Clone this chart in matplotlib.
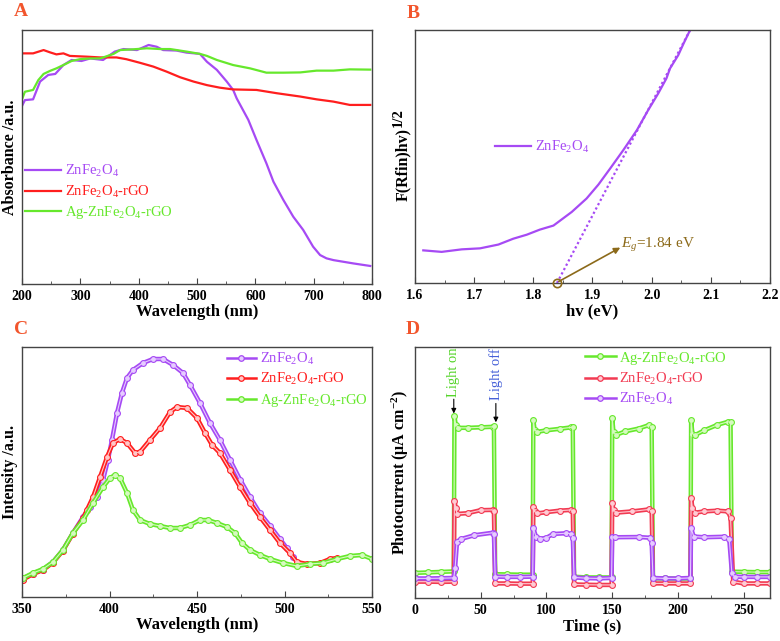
import matplotlib.pyplot as plt
from matplotlib.lines import Line2D
from matplotlib.ticker import MultipleLocator

plt.rcParams.update({
    "font.family": ["Liberation Serif", "DejaVu Serif"],
    "font.weight": "bold",
    "mathtext.fontset": "custom",
    "mathtext.rm": "Liberation Serif:regular",
    "mathtext.it": "Liberation Serif:italic:regular",
    "mathtext.bf": "Liberation Serif:bold",
    "mathtext.default": "regular",
    "axes.edgecolor": "#444444",
    "axes.linewidth": 1.0,
})

PURPLE = "#A64AF4"
RED = "#FF1E1E"
GREEN = "#66E82C"
RED_D = "#F23A52"
LETTER = "#F2552C"
BROWN = "#8C6A1A"
CORE = {PURPLE: "#E6CCFF", RED: "#FFC8C8", GREEN: "#D6FAC0", RED_D: "#FFCCD4"}

# --- A: UV-vis absorbance (a.u., fraction of axis height)
uv_wl_zf = [200, 205, 219, 231, 245, 257, 271, 285, 302, 317, 339, 359, 374, 397, 417, 431, 442, 465, 482, 505,
            517, 534, 551, 562, 568, 588, 602, 619, 631, 648, 665, 682, 699, 711, 722, 734, 768, 797]
uv_abs_zf = [0.701, 0.724, 0.727, 0.797, 0.823, 0.827, 0.862, 0.882, 0.878, 0.888, 0.882, 0.915, 0.925, 0.921,
             0.941, 0.934, 0.921, 0.919, 0.911, 0.906, 0.875, 0.843, 0.797, 0.764, 0.731, 0.646, 0.567, 0.475,
             0.403, 0.331, 0.265, 0.213, 0.147, 0.114, 0.101, 0.094, 0.081, 0.071]
uv_wl_rgo = [200, 219, 237, 248, 259, 271, 282, 311, 334, 362, 379, 402, 425, 448, 471, 494, 517, 539, 562, 602,
             637, 677, 705, 734, 762, 797]
uv_abs_rgo = [0.908, 0.908, 0.921, 0.912, 0.904, 0.908, 0.898, 0.895, 0.892, 0.892, 0.885, 0.871, 0.856, 0.836,
              0.814, 0.797, 0.783, 0.773, 0.766, 0.764, 0.751, 0.738, 0.727, 0.718, 0.705, 0.705]
uv_wl_ag = [200, 205, 219, 228, 237, 248, 259, 271, 285, 299, 317, 334, 357, 368, 391, 414, 437, 454, 482, 505,
            517, 534, 562, 591, 619, 648, 677, 705, 734, 762, 797]
uv_abs_ag = [0.727, 0.757, 0.764, 0.803, 0.827, 0.839, 0.849, 0.862, 0.878, 0.885, 0.888, 0.888, 0.906, 0.921,
             0.924, 0.928, 0.925, 0.925, 0.915, 0.906, 0.898, 0.882, 0.862, 0.849, 0.832, 0.832, 0.833, 0.840,
             0.840, 0.845, 0.844]

# --- B: Tauc plot
tauc_hv = [1.614, 1.645, 1.679, 1.710, 1.741, 1.766, 1.789, 1.811, 1.834, 1.865, 1.890, 1.910, 1.930, 1.952,
           1.975, 1.994, 2.011, 2.025, 2.031, 2.045, 2.054, 2.065]
tauc_y = [0.129, 0.123, 0.133, 0.137, 0.152, 0.175, 0.191, 0.211, 0.227, 0.281, 0.334, 0.389, 0.453, 0.525,
          0.604, 0.683, 0.749, 0.809, 0.848, 0.901, 0.947, 1.0]
tangent_hv = [1.84, 2.065]
tangent_y = [0.0, 1.0]
eg_value = 1.84

# --- C: PL spectra
pl_wl_zf = [350.6, 356.3, 362, 367.7, 373.4, 379.1, 384.9, 388.9, 392.9, 396.3, 399.1, 401.4, 404.3, 407.1, 410,
            413.4, 419.1, 424.9, 430.6, 436.3, 442, 446, 451.7, 457.4, 463.1, 468.9, 474.6, 480.3, 486, 491.7,
            497.4, 501.4, 504.9]
pl_int_zf = [0.074, 0.094, 0.11, 0.14, 0.188, 0.256, 0.32, 0.36, 0.40, 0.468, 0.548, 0.628, 0.736, 0.816, 0.876,
             0.908, 0.936, 0.952, 0.952, 0.928, 0.896, 0.848, 0.776, 0.696, 0.628, 0.548, 0.47, 0.40, 0.335,
             0.285, 0.232, 0.195, 0.16]
pl_wl_rgo = [350.6, 356.3, 362, 367.7, 373.4, 379.1, 384.9, 387.1, 390.6, 394.6, 398.6, 402, 406, 410, 414.6,
             417.4, 423.1, 428.9, 434.6, 438.6, 444.3, 450, 454.6, 458.6, 463.1, 468.9, 474.6, 480.3, 486, 491.7,
             497.4, 503.1, 507.1, 512.9, 520.3, 526, 530]
pl_int_rgo = [0.07, 0.092, 0.108, 0.138, 0.186, 0.254, 0.315, 0.348, 0.40, 0.48, 0.56, 0.616, 0.632, 0.616,
              0.576, 0.58, 0.628, 0.676, 0.74, 0.76, 0.756, 0.716, 0.656, 0.608, 0.576, 0.508, 0.44, 0.376, 0.32,
              0.268, 0.216, 0.176, 0.14, 0.132, 0.136, 0.152, 0.156]
pl_wl_ag = [350.6, 356.3, 362, 367.7, 373.4, 379.1, 384.9, 390.6, 396.3, 400.3, 403.1, 406, 410, 413.4, 417.4,
            423.1, 428.9, 434.6, 440.3, 446, 451.7, 456.3, 461.4, 467.1, 471.7, 475.7, 480.3, 486, 491.7, 499.1,
            507.1, 514.6, 522, 530, 537.4, 544.3, 550]
pl_int_ag = [0.076, 0.096, 0.112, 0.14, 0.188, 0.256, 0.308, 0.376, 0.44, 0.476, 0.488, 0.476, 0.416, 0.348,
             0.308, 0.292, 0.284, 0.276, 0.276, 0.288, 0.308, 0.308, 0.296, 0.28, 0.256, 0.216, 0.188, 0.168,
             0.152, 0.136, 0.124, 0.132, 0.136, 0.152, 0.164, 0.168, 0.152]

# --- D: transient photocurrent
pc_t_ag = [0, 10, 20, 29.5, 30, 31, 33, 40, 50, 59, 60, 61, 70, 80, 89.5, 90, 91, 93, 100, 110, 119, 120, 121,
           130, 140, 149.5, 150, 151, 153, 160, 170, 178, 180, 181, 190, 200, 209.5, 210, 211, 213, 220, 230,
           238, 240, 241, 250, 260, 270]
pc_ag = [0.100, 0.102, 0.104, 0.106, 0.725, 0.69, 0.678, 0.678, 0.680, 0.682, 0.685, 0.095, 0.094, 0.093, 0.093,
         0.709, 0.670, 0.662, 0.668, 0.674, 0.680, 0.682, 0.085, 0.082, 0.082, 0.082, 0.716, 0.660, 0.650, 0.664,
         0.675, 0.689, 0.680, 0.078, 0.078, 0.077, 0.078, 0.709, 0.655, 0.649, 0.668, 0.690, 0.702, 0.700, 0.105,
         0.104, 0.103, 0.103]
pc_t_rgo = [0, 10, 20, 29.5, 30, 31, 32, 40, 50, 59, 60, 61, 70, 80, 89.5, 90, 91, 93, 100, 110, 119, 120, 121,
            130, 140, 149.5, 150, 151, 153, 165, 178, 180, 181, 190, 200, 209.5, 210, 211, 213, 220, 230, 238,
            240, 242, 250, 260, 270]
pc_rgo = [0.065, 0.065, 0.064, 0.065, 0.388, 0.36, 0.335, 0.338, 0.350, 0.351, 0.345, 0.058, 0.058, 0.057, 0.057,
          0.364, 0.345, 0.337, 0.342, 0.348, 0.351, 0.345, 0.054, 0.053, 0.052, 0.052, 0.380, 0.350, 0.340, 0.345,
          0.353, 0.345, 0.058, 0.058, 0.058, 0.058, 0.397, 0.360, 0.340, 0.345, 0.348, 0.345, 0.320, 0.065, 0.058,
          0.058, 0.058]
pc_t_zf = [0, 10, 20, 29.5, 30.5, 32, 35, 45, 59, 60, 61, 70, 80, 89.5, 90, 92, 95, 100, 105, 115, 119, 120, 121,
           130, 140, 149.5, 150, 152, 170, 179, 180, 181, 190, 200, 209.5, 210, 212, 220, 235, 239, 241, 243, 250,
           260, 270]
pc_zf = [0.078, 0.078, 0.079, 0.080, 0.120, 0.225, 0.235, 0.250, 0.260, 0.255, 0.085, 0.084, 0.084, 0.085, 0.278,
         0.245, 0.236, 0.240, 0.255, 0.258, 0.256, 0.240, 0.082, 0.079, 0.078, 0.080, 0.244, 0.242, 0.243, 0.240,
         0.220, 0.080, 0.078, 0.078, 0.080, 0.278, 0.245, 0.242, 0.244, 0.235, 0.100, 0.085, 0.084, 0.084, 0.084]

LBL_ZF = "ZnFe$_2$O$_4$"
LBL_RGO = "ZnFe$_2$O$_4$-rGO"
LBL_AG = "Ag-ZnFe$_2$O$_4$-rGO"

W, H = 780, 641
fig = plt.figure(figsize=(W / 100, H / 100), dpi=100)


def px_axes(left, top, right, bottom):
    return fig.add_axes([left / W, 1 - bottom / H, (right - left) / W, (bottom - top) / H])


def style(ax, major, minor, xlabel, ylabel):
    ax.xaxis.set_major_locator(MultipleLocator(major))
    ax.xaxis.set_minor_locator(MultipleLocator(minor))
    ax.set_yticks([])
    ax.tick_params(axis="x", which="both", direction="in", top=False, labelsize=10, pad=4,
                   color="#444444")
    ax.tick_params(axis="x", which="major", length=4)
    ax.tick_params(axis="x", which="minor", length=2)
    ax.set_xlabel(xlabel, fontsize=12, fontweight="bold", labelpad=1)
    ax.set_ylabel(ylabel, fontsize=11.5, fontweight="bold", labelpad=3)


def legend(ax, loc, anchor, handles=None, hlen=2.5):
    kw = dict(loc=loc, bbox_to_anchor=anchor, frameon=False, borderpad=0, borderaxespad=0,
              handlelength=hlen, handletextpad=0.25, labelspacing=0.3,
              prop={"family": "Liberation Serif", "weight": "normal", "size": 10.5},
              labelcolor="linecolor")
    if handles is not None:
        kw["handles"] = handles
    return ax.legend(**kw)


def beaded(ax, x, y, color):
    # dense hollow markers in the source look like a thick line with a pale core
    ax.plot(x, y, color=color, lw=3.2, solid_joinstyle="round", solid_capstyle="round",
            marker="o", ms=4.2, mfc=CORE[color], mec=color, mew=0.8)
    ax.plot(x, y, color=CORE[color], lw=0.8, solid_joinstyle="round")


def proxy(color, label):
    return Line2D([], [], color=color, lw=1.8, marker="o", ms=4, mfc=CORE[color], mec=color,
                  mew=0.9, label=label)


def letter(x, y, s):
    fig.text(x / W, 1 - y / H, s, color=LETTER, fontsize=14, fontweight="bold", ha="center", va="center")


# Panel A
axA = px_axes(22, 30, 372, 284)
axA.plot(uv_wl_zf, uv_abs_zf, color=PURPLE, lw=1.6, label=LBL_ZF)
axA.plot(uv_wl_rgo, uv_abs_rgo, color=RED, lw=1.6, label=LBL_RGO)
axA.plot(uv_wl_ag, uv_abs_ag, color=GREEN, lw=1.6, label=LBL_AG)
axA.set_xlim(200, 800)
axA.set_ylim(0, 1)
style(axA, 100, 50, "Wavelength (nm)", "Absorbance /a.u.")
legend(axA, "upper left", (0.008, 0.475))
letter(21, 12, "A")

# Panel B
axB = px_axes(415, 30, 770, 283)
axB.plot(tauc_hv, tauc_y, color=PURPLE, lw=1.6, label=LBL_ZF)
axB.plot(tangent_hv, tangent_y, color=PURPLE, lw=1.6, ls=(0, (1, 1.2)))
axB.plot([eg_value], [0], marker="o", ms=6, mfc="none", mec=BROWN, mew=1.2, clip_on=False, zorder=5)
axB.annotate("", xy=(1.947, 0.14), xytext=(eg_value + 0.003, 0.006),
             arrowprops=dict(arrowstyle="-|>", color=BROWN, lw=1.2, mutation_scale=9, shrinkA=0, shrinkB=0))
axB.text(1.949, 0.15, r"$\mathit{E_g}$=1.84 eV", color=BROWN, fontsize=11, fontweight="normal", va="center")
axB.set_xlim(1.6, 2.2)
axB.set_ylim(0, 1)
style(axB, 0.1, 0.05, "hv (eV)", "F(Rfin)hv)")
axB.yaxis.set_label_coords(-0.012, 0.47)
axB.xaxis.set_major_formatter(plt.FormatStrFormatter("%.1f"))
legend(axB, "center left", (0.225, 0.538))
letter(413, 13, "B")

# Panel C
axC = px_axes(22, 347, 372, 597)
beaded(axC, pl_wl_zf, pl_int_zf, PURPLE)
beaded(axC, pl_wl_rgo, pl_int_rgo, RED)
beaded(axC, pl_wl_ag, pl_int_ag, GREEN)
axC.set_xlim(350, 550)
axC.set_ylim(0, 1)
style(axC, 50, 25, "Wavelength (nm)", "Intensity /a.u.")
legend(axC, "upper left", (0.585, 0.985),
       handles=[proxy(PURPLE, LBL_ZF), proxy(RED, LBL_RGO), proxy(GREEN, LBL_AG)], hlen=2.0)
letter(21, 329, "C")

# Panel D
axD = px_axes(415, 347, 770, 598)
beaded(axD, pc_t_ag, pc_ag, GREEN)
beaded(axD, pc_t_rgo, pc_rgo, RED_D)
beaded(axD, pc_t_zf, pc_zf, PURPLE)
axD.set_xlim(0, 270)
axD.set_ylim(0, 1)
style(axD, 50, 25, "Time (s)", "Photocurrent (μA cm$^{-2}$)")
legend(axD, "upper left", (0.479, 0.99),
       handles=[proxy(GREEN, LBL_AG), proxy(RED_D, LBL_RGO), proxy(PURPLE, LBL_ZF)], hlen=2.1)
axD.text(29.5, 0.80, "Light on", rotation=90, color="#55D42A", fontsize=10.5, fontweight="normal",
         ha="center", va="bottom")
axD.text(61.5, 0.79, "Light off", rotation=90, color="#4560D8", fontsize=10.5, fontweight="normal",
         ha="center", va="bottom")
axD.annotate("", xy=(29.5, 0.735), xytext=(29.5, 0.792),
             arrowprops=dict(arrowstyle="-|>", color="black", lw=0.8, mutation_scale=7, shrinkA=0, shrinkB=0))
axD.annotate("", xy=(61.5, 0.700), xytext=(61.5, 0.775),
             arrowprops=dict(arrowstyle="-|>", color="black", lw=0.8, mutation_scale=7, shrinkA=0, shrinkB=0))
letter(413, 330, "D")

# raised "1/2" after the panel B y label, at nearly full size as in the source
fig.canvas.draw()
bb = axB.yaxis.label.get_window_extent()
fig.text((bb.x0 - 3) / W, (bb.y1 + 1) / H, "1/2", rotation=90, fontsize=10.5, fontweight="bold",
         ha="left", va="bottom")

fig.savefig("out.png", dpi=100)
